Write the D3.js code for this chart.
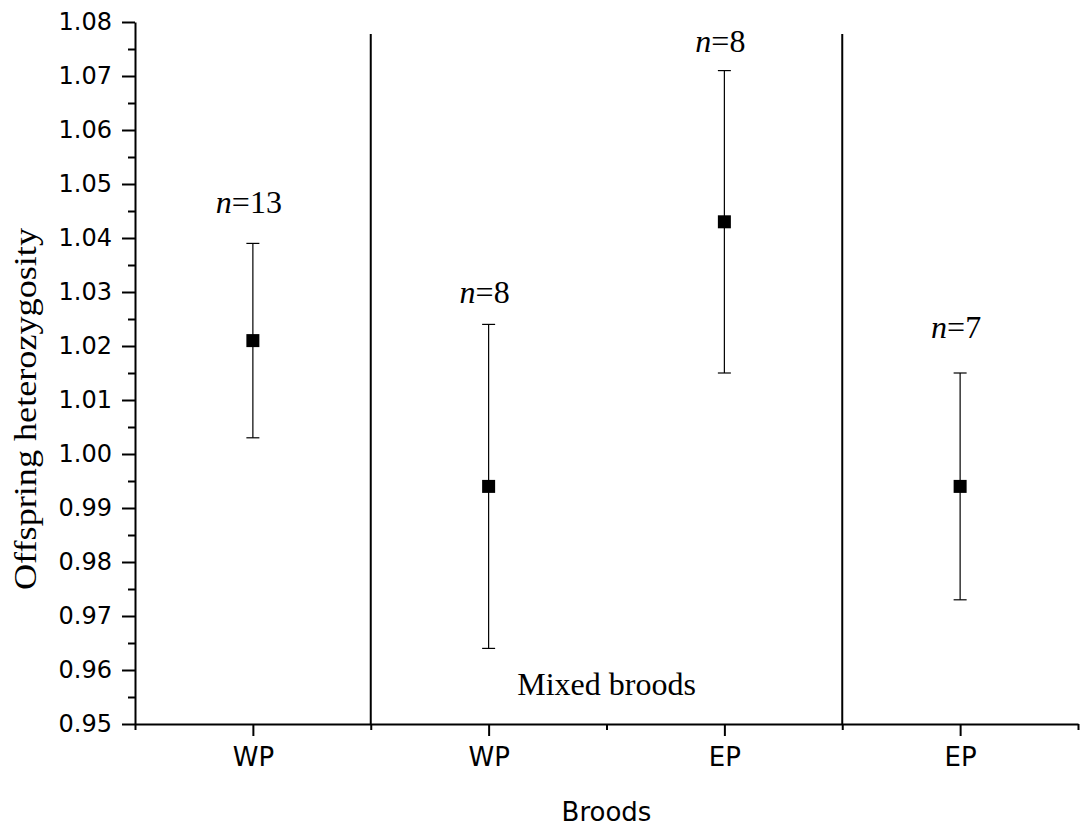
<!DOCTYPE html>
<html>
<head>
<meta charset="utf-8">
<script src="https://cdn.jsdelivr.net/npm/d3@7"></script>
<style>
  body { margin: 0; background: #fff; }
  svg { display: block; }
</style>
</head>
<body>
<div id="chart"></div>
<script>
// data
const groups = ["WP", "WP", "EP", "EP"];
const positions = [1, 3, 5, 7];
const means = [1.021, 0.994, 1.043, 0.994];
const lower = [1.003, 0.964, 1.015, 0.973];
const upper = [1.039, 1.024, 1.071, 1.015];
const nLabels = ["13", "8", "8", "7"];
const nLabelY = [1.0446, 1.028, 1.0745, 1.0215];
const dividers = [2, 6];
const dividerTop = 1.0778;
const yMajor = d3.range(0.95, 1.0801, 0.01);
const yMinor = d3.range(0.955, 1.08, 0.01);
const xMinor = [0, 2, 4, 6, 8];

const W = 1080, H = 829;
const margin = { top: 22, right: 2, bottom: 105, left: 135 };

const svg = d3.select("#chart")
    .append("svg")
    .attr("width", W)
    .attr("height", H);

const x = d3.scaleLinear().domain([0, 8]).range([margin.left, W - margin.right]);
const y = d3.scaleLinear().domain([0.95, 1.08]).range([H - margin.bottom, margin.top]);

const sans = "'DejaVu Sans', sans-serif";
const serif = "'Liberation Serif', 'Times New Roman', serif";

// y axis: minor ticks then major ticks
svg.append("g")
    .attr("transform", `translate(${x(0)},0)`)
    .call(d3.axisLeft(y).tickValues(yMinor).tickSize(7).tickSizeOuter(0).tickFormat(""))
    .call(g => g.select(".domain").remove())
    .call(g => g.selectAll("line").attr("stroke-width", 2));

svg.append("g")
    .attr("transform", `translate(${x(0)},0)`)
    .call(d3.axisLeft(y).tickValues(yMajor).tickSize(13).tickSizeOuter(0).tickPadding(10)
        .tickFormat(d3.format(".2f")))
    .call(g => g.select(".domain").attr("stroke-width", 2))
    .call(g => g.selectAll("line").attr("stroke-width", 2))
    .call(g => g.selectAll("text")
        .attr("font-family", sans)
        .attr("font-size", 24)
        .attr("fill", "#000"));

// x axis
svg.append("g")
    .attr("transform", `translate(0,${y(0.95)})`)
    .call(d3.axisBottom(x).tickValues(xMinor).tickSize(6).tickSizeOuter(0).tickFormat(""))
    .call(g => g.select(".domain").remove())
    .call(g => g.selectAll("line").attr("stroke-width", 2));

svg.append("g")
    .attr("transform", `translate(0,${y(0.95)})`)
    .call(d3.axisBottom(x).tickValues(positions).tickSize(12).tickSizeOuter(0).tickPadding(12)
        .tickFormat((d, i) => groups[i]))
    .call(g => g.select(".domain").attr("stroke-width", 2))
    .call(g => g.selectAll("line").attr("stroke-width", 2))
    .call(g => g.selectAll("text")
        .attr("font-family", sans)
        .attr("font-size", 26)
        .attr("fill", "#000"));

// divider lines
svg.selectAll(".divider")
    .data(dividers)
    .join("line")
    .attr("x1", d => x(d))
    .attr("x2", d => x(d))
    .attr("y1", y(dividerTop))
    .attr("y2", y(0.95))
    .attr("stroke", "#000")
    .attr("stroke-width", 2);

// error bars
const bars = svg.selectAll(".bar")
    .data(positions.map((p, i) => ({ p, m: means[i], lo: lower[i], hi: upper[i], n: nLabels[i], ny: nLabelY[i] })))
    .join("g");

bars.append("line")
    .attr("x1", d => x(d.p)).attr("x2", d => x(d.p))
    .attr("y1", d => y(d.lo)).attr("y2", d => y(d.hi))
    .attr("stroke", "#000").attr("stroke-width", 1.2);

bars.selectAll(".cap")
    .data(d => [{ p: d.p, v: d.lo }, { p: d.p, v: d.hi }])
    .join("line")
    .attr("x1", d => x(d.p) - 6.5).attr("x2", d => x(d.p) + 6.5)
    .attr("y1", d => y(d.v)).attr("y2", d => y(d.v))
    .attr("stroke", "#000").attr("stroke-width", 1.2);

bars.append("rect")
    .attr("x", d => x(d.p) - 6.5)
    .attr("y", d => y(d.m) - 6.5)
    .attr("width", 13)
    .attr("height", 13)
    .attr("fill", "#000");

const nText = bars.append("text")
    .attr("x", d => x(d.p) - 4)
    .attr("y", d => y(d.ny))
    .attr("text-anchor", "middle")
    .attr("font-family", serif)
    .attr("font-size", 32)
    .attr("fill", "#000");
nText.append("tspan").attr("font-style", "italic").text("n");
nText.append("tspan").text(d => "=" + d.n);

// region label
svg.append("text")
    .attr("x", x(4))
    .attr("y", 695)
    .attr("text-anchor", "middle")
    .attr("font-family", serif)
    .attr("font-size", 32)
    .text("Mixed broods");

// axis titles
svg.append("text")
    .attr("x", x(4))
    .attr("y", 821)
    .attr("text-anchor", "middle")
    .attr("font-family", sans)
    .attr("font-size", 26)
    .text("Broods");

svg.append("text")
    .attr("transform", `translate(36,409) rotate(-90)`)
    .attr("text-anchor", "middle")
    .attr("font-family", serif)
    .attr("font-size", 31)
    .attr("textLength", 362)
    .attr("lengthAdjust", "spacingAndGlyphs")
    .text("Offspring heterozygosity");
</script>
</body>
</html>
